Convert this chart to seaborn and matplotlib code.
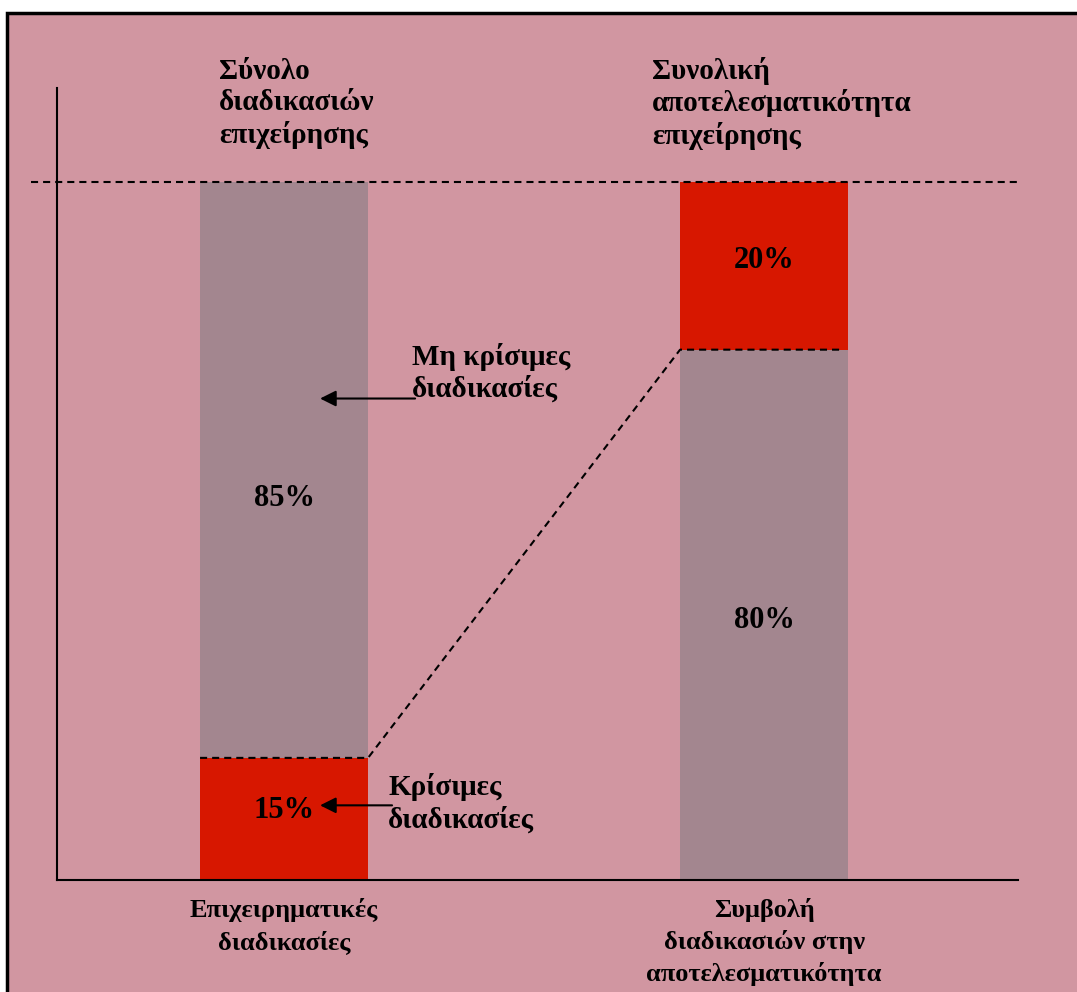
import matplotlib
matplotlib.use("Agg")
import matplotlib.pyplot as plt
import seaborn as sns
import pandas as pd
from matplotlib.patches import Rectangle
import matplotlib.transforms as mtransforms

# ---------------- data ----------------
categories = ["Επιχειρηματικές\nδιαδικασίες",
              "Συμβολή\nδιαδικασιών στην\nαποτελεσματικότητα"]
lower_labels = ["15%", "80%"]
upper_labels = ["85%", "20%"]
lower_heights = [17.5, 76.0]      # drawn height of lower segment (as drawn in picture)
total_heights = [100.0, 100.0]
lower_colors = ["#D71700", "#A3868F"]
upper_colors = ["#A3868F", "#D71700"]
titles = ["Σύνολο\nδιαδικασιών\nεπιχείρησης",
          "Συνολική\nαποτελεσματικότητα\nεπιχείρησης"]
notes = ["Μη κρίσιμες\nδιαδικασίες", "Κρίσιμες\nδιαδικασίες"]

BG = "#D196A1"
sns.set_theme(style="white")
plt.rcParams["font.family"] = ["Liberation Serif", "DejaVu Serif"]
plt.rcParams["font.weight"] = "bold"

W, H = 1077, 992
fig = plt.figure(figsize=(W / 100, H / 100), dpi=100)
fig.patch.set_facecolor("white")
fig.patches.append(Rectangle((7 / W, -0.02), 1.2, (H - 13) / H + 0.02,
                             transform=fig.transFigure, facecolor=BG,
                             edgecolor="black", lw=2.5, zorder=-10))

ax = fig.add_axes([57 / W, 1 - 880 / H, (1018 - 57) / W, (880 - 88) / H])
ax.set_facecolor("none")
ax.set_zorder(1)

df = pd.DataFrame({"cat": categories, "total": total_heights, "lower": lower_heights})
bw = 0.35
sns.barplot(data=df, x="cat", y="total", hue="cat",
            palette=dict(zip(categories, upper_colors)), width=bw,
            saturation=1, legend=False, ax=ax, linewidth=0)
sns.barplot(data=df, x="cat", y="lower", hue="cat",
            palette=dict(zip(categories, lower_colors)), width=bw,
            saturation=1, legend=False, ax=ax, linewidth=0)

ax.set_xlim(-0.473, 1.529)
ax.set_ylim(0, 113.5)
ax.set_yticks([])
ax.set_xlabel("")
ax.set_ylabel("")
for s in ["top", "right"]:
    ax.spines[s].set_visible(False)
for s in ["left", "bottom"]:
    ax.spines[s].set_color("black")
    ax.spines[s].set_linewidth(1.5)
ax.tick_params(axis="x", length=0, pad=13)
for lab in ax.get_xticklabels():
    lab.set_fontsize(19)
    lab.set_fontweight("bold")
    lab.set_linespacing(1.42)
    lab.set_color("black")

dash = (0, (3.4, 2.4))
# top dashed line at 100%
blend = mtransforms.blended_transform_factory(ax.transAxes, ax.transData)
ax.plot([-0.027, 1.0], [total_heights[0]] * 2, transform=blend, color="black",
        lw=1.5, ls=dash, clip_on=False, zorder=5)
# connector dashed line
half = bw / 2
ax.plot([0 - half, 0 + half, 1 - half, 1 + half - 0.012],
        [lower_heights[0], lower_heights[0], lower_heights[1], lower_heights[1]],
        color="black", lw=1.5, ls=dash, zorder=5)

tkw = dict(fontsize=21, fontweight="bold", color="black")
LS = 1.22
# value labels
ax.text(0, 10.0, lower_labels[0], ha="center", va="center", fontsize=22,
        fontweight="bold", color="black")
ax.text(0, 54.7, upper_labels[0], ha="center", va="center", fontsize=22,
        fontweight="bold", color="black")
ax.text(1, 37.2, lower_labels[1], ha="center", va="center", fontsize=22,
        fontweight="bold", color="black")
ax.text(1, 88.8, upper_labels[1], ha="center", va="center", fontsize=22,
        fontweight="bold", color="black")

# titles
ax.text(-0.135, 111.3, titles[0], ha="left", va="center", linespacing=LS,
        clip_on=False, **tkw)
ax.text(0.767, 111.3, titles[1], ha="left", va="center", linespacing=LS,
        clip_on=False, **tkw)

# notes with arrows
ax.text(0.267, 72.7, notes[0], ha="left", va="center", linespacing=LS, **tkw)
ax.text(0.217, 10.96, notes[1], ha="left", va="center", linespacing=LS, **tkw)
akw = dict(arrowstyle="-|>", color="black", lw=1.5, mutation_scale=24,
           shrinkA=0, shrinkB=0)
ax.annotate("", xy=(0.075, 69.0), xytext=(0.273, 69.0), arrowprops=akw)
ax.annotate("", xy=(0.075, 10.7), xytext=(0.225, 10.7), arrowprops=akw)

fig.savefig("out.png", dpi=100, facecolor=fig.get_facecolor())
